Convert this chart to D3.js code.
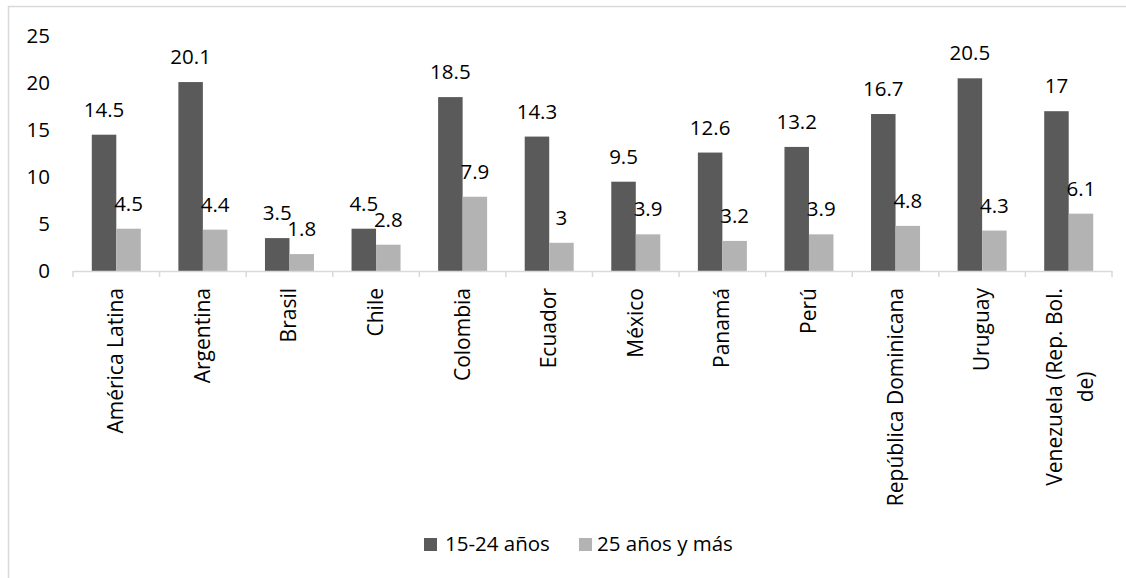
<!DOCTYPE html>
<html><head><meta charset="utf-8">
<script src="https://cdn.jsdelivr.net/npm/d3@7"></script>
<style>
body{margin:0;background:#fff;}
svg{display:block;font-family:"Open Sans",sans-serif;}
</style></head>
<body><svg id="c" width="1126" height="578"></svg>
<script>
const categories = ["América Latina","Argentina","Brasil","Chile","Colombia","Ecuador","México","Panamá","Perú","República Dominicana","Uruguay","Venezuela (Rep. Bol. de)"];
const categoryLines = [["América Latina"],["Argentina"],["Brasil"],["Chile"],["Colombia"],["Ecuador"],["México"],["Panamá"],["Perú"],["República Dominicana"],["Uruguay"],["Venezuela (Rep. Bol.","de)"]];
const seriesNames = ["15-24 años","25 años y más"];
const young = [14.5,20.1,3.5,4.5,18.5,14.3,9.5,12.6,13.2,16.7,20.5,17];
const older = [4.5,4.4,1.8,2.8,7.9,3,3.9,3.2,3.9,4.8,4.3,6.1];
const yTicks = [0,5,10,15,20,25];
const colors = ["#5a5a5a","#b3b3b3"];

const svg = d3.select("#c");
const FS = 20.5;
const FSC = 21;
// frame
svg.append("path").attr("d","M8.5,578 V6.5 H1126").attr("fill","none").attr("stroke","#d9d9d9").attr("stroke-width",1.5);

const x0 = d3.scaleBand().domain(categories).range([73,1112]).padding(0);
const x1 = d3.scaleBand().domain(seriesNames).range([0,x0.bandwidth()]).paddingInner(0).paddingOuter(0.767);
const y = d3.scaleLinear().domain([0,25]).range([271,36]);

// y axis labels
const ya = svg.append("g").attr("transform","translate(73,0)")
  .call(d3.axisLeft(y).tickValues(yTicks).tickSize(0).tickPadding(23).tickFormat(d3.format("d")));
ya.select(".domain").remove();
ya.selectAll("text").attr("font-size",FS).attr("font-family","Open Sans").attr("fill","#000");

const data = categories.map((c,i)=>({c, vals:[young[i],older[i]]}));

const g = svg.append("g");
data.forEach((d,i)=>{
  d.vals.forEach((v,j)=>{
    g.append("rect").attr("x",x0(d.c)+x1(seriesNames[j])).attr("y",y(v))
      .attr("width",x1.bandwidth()).attr("height",y(0)-y(v)).attr("fill",colors[j]);
  });
});
// value labels
data.forEach((d,i)=>{
  d.vals.forEach((v,j)=>{
    g.append("text").attr("x",x0(d.c)+x1(seriesNames[j])+x1.bandwidth()/2).attr("y",y(v)-18)
      .attr("text-anchor","middle").attr("font-size",FS).attr("fill","#000").text(v);
  });
});

// baseline axis
svg.append("line").attr("x1",73).attr("x2",1112).attr("y1",271.5).attr("y2",271.5).attr("stroke","#d9d9d9").attr("stroke-width",1.5);
const bounds = categories.map(c=>x0(c)).concat([x0.range()[1]]);
svg.selectAll(".tk").data(bounds).enter().append("line")
  .attr("x1",d=>d).attr("x2",d=>d).attr("y1",271).attr("y2",277).attr("stroke","#d9d9d9").attr("stroke-width",1.5);

// category labels
categories.forEach((c,i)=>{
  const cx = x0(c)+x0.bandwidth()/2;
  const lines = categoryLines[i];
  const t = svg.append("text").attr("transform",`translate(${cx},288) rotate(-90)`)
    .attr("font-size",FSC).attr("fill","#000");
  if(lines.length===1){
    t.attr("text-anchor","end").attr("y",7).text(lines[0]);
  } else {
    const t1 = t.append("tspan").attr("text-anchor","end").attr("x",0).attr("y",-7).text(lines[0]);
    const L = t1.node().getComputedTextLength();
    t.append("tspan").attr("text-anchor","middle").attr("x",-L/2).attr("y",24).text(lines[1]);
  }
});

// legend
const leg = [{x:424,tx:445},{x:579,tx:597}];
seriesNames.forEach((s,j)=>{
  svg.append("rect").attr("x",leg[j].x).attr("y",538).attr("width",13).attr("height",13).attr("fill",colors[j]);
  svg.append("text").attr("x",leg[j].tx).attr("y",551).attr("font-size",FS).attr("fill","#000").text(s);
});
</script></body></html>
